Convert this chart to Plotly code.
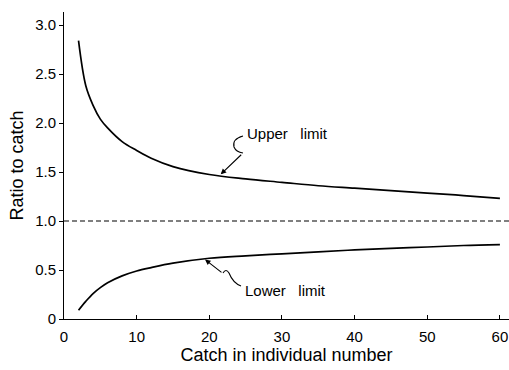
import plotly.graph_objects as go

catch = [2, 3, 4, 5, 6, 8, 10, 12, 15, 20, 25, 30, 35, 40, 45, 50, 55, 60]
upper_limit = [2.84, 2.38, 2.18, 2.04, 1.95, 1.81, 1.72, 1.64, 1.555, 1.475,
               1.43, 1.395, 1.36, 1.335, 1.31, 1.285, 1.26, 1.23]
lower_limit = [0.09, 0.18, 0.26, 0.32, 0.37, 0.44, 0.49, 0.525, 0.57, 0.62,
               0.645, 0.665, 0.685, 0.705, 0.72, 0.735, 0.75, 0.76]
reference_ratio = 1.0

x_ticks = [0, 10, 20, 30, 40, 50, 60]
y_ticks = [0, 0.5, 1.0, 1.5, 2.0, 2.5, 3.0]
y_tick_text = ["0", "0.5", "1.0", "1.5", "2.0", "2.5", "3.0"]

FONT = "Liberation Sans, Arial, sans-serif"
W, H = 509, 370
ML, MR, MT, MB = 64, 0, 12, 51
XR = [0, 61.25]
YR = [0, 3.133]


def to_data(px, py):
    x = XR[0] + (px - ML) / (W - ML - MR) * (XR[1] - XR[0])
    y = YR[0] + (H - MB - py) / (H - MT - MB) * (YR[1] - YR[0])
    return x, y


def path(points):
    d = []
    for cmd, pts in points:
        s = " ".join("%.4f,%.4f" % to_data(*p) for p in pts)
        d.append(cmd + " " + s)
    return " ".join(d)


fig = go.Figure()
fig.add_trace(go.Scatter(x=catch, y=upper_limit, mode="lines",
                         line=dict(color="black", width=1.7, shape="spline"),
                         showlegend=False))
fig.add_trace(go.Scatter(x=catch, y=lower_limit, mode="lines",
                         line=dict(color="black", width=1.7, shape="spline"),
                         showlegend=False))
fig.add_hline(y=reference_ratio, line=dict(color="black", width=1.2, dash="5px,3px"))

# squiggly leader lines
up_path = path([("M", [(243, 136)]),
                ("Q", [(232, 139), (234, 147)]),
                ("Q", [(236, 152), (243, 153)])])
lo_path = path([("M", [(223, 273)]),
                ("Q", [(226, 268), (229, 273)]),
                ("Q", [(233, 283), (241, 286)])])
for p in (up_path, lo_path):
    fig.add_shape(type="path", path=p, xref="x", yref="y",
                  line=dict(color="black", width=1.1))

tx, ty = to_data(220.7, 174.3)
fig.add_annotation(x=tx, y=ty, text="", showarrow=True, ax=22, ay=-21,
                   arrowhead=2, arrowsize=1, arrowwidth=1.1, arrowcolor="black")
tx, ty = to_data(205, 259.5)
fig.add_annotation(x=tx, y=ty, text="", showarrow=True, ax=18, ay=14,
                   arrowhead=2, arrowsize=1, arrowwidth=1.1, arrowcolor="black")

tx, ty = to_data(245, 133)
fig.add_annotation(x=tx, y=ty, text="Upper\u00a0\u00a0 limit", showarrow=False,
                   xanchor="left", yanchor="middle",
                   font=dict(family=FONT, size=15, color="black"))
tx, ty = to_data(243, 290)
fig.add_annotation(x=tx, y=ty, text="Lower\u00a0\u00a0 limit", showarrow=False,
                   xanchor="left", yanchor="middle",
                   font=dict(family=FONT, size=15, color="black"))

fig.update_layout(
    width=W, height=H,
    margin=dict(l=ML, r=MR, t=MT, b=MB, autoexpand=False),
    paper_bgcolor="white", plot_bgcolor="white",
    font=dict(family=FONT, size=15, color="black"),
    xaxis=dict(range=XR, tickvals=x_ticks, ticks="inside", ticklen=4,
               tickcolor="black", showgrid=False, zeroline=False,
               showline=True, linecolor="black", linewidth=1,
               ticklabelstandoff=4,
               title=dict(text="Catch in individual number", standoff=4),
               tickfont=dict(size=15)),
    yaxis=dict(range=YR, tickvals=y_ticks, ticktext=y_tick_text,
               ticks="outside", ticklen=4, tickcolor="black",
               showgrid=False, zeroline=False, showline=True,
               linecolor="black", linewidth=1,
               title=dict(text="Ratio to catch", standoff=6),
               tickfont=dict(size=15)),
)

fig.write_html("out.html", config={"displayModeBar": False},
               post_script="document.body.style.margin='0';document.body.style.padding='0';")
